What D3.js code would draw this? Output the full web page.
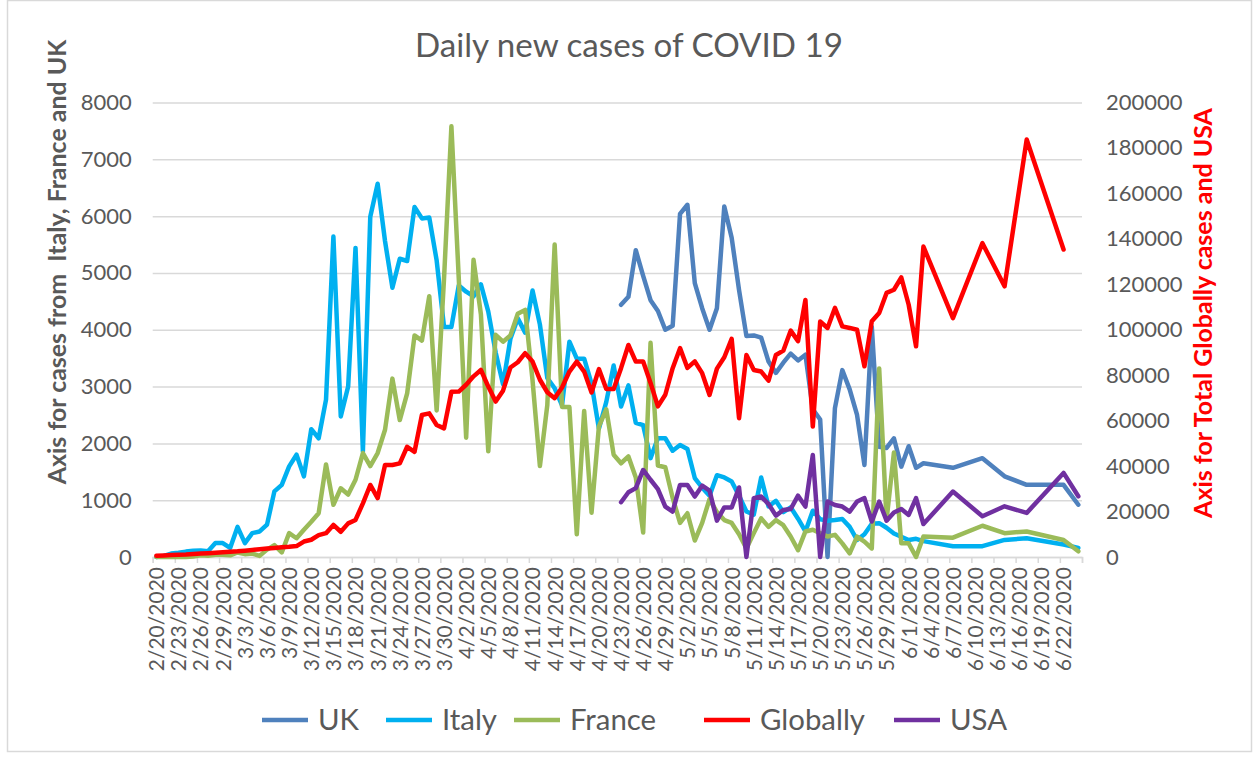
<!DOCTYPE html>
<html><head><meta charset="utf-8">
<script src="https://cdn.jsdelivr.net/npm/d3@7"></script>
<style>
body{margin:0;background:#fff}
svg{display:block}
text{font-family:Lato,"Open Sans",sans-serif;white-space:pre}
</style>
</head><body>
<svg id="chart" width="1258" height="760"></svg>
<script>
// ---------- DATA ----------
const dates = [
"2/20","2/21","2/22","2/23","2/24","2/25","2/26","2/27","2/28","2/29",
"3/1","3/2","3/3","3/4","3/5","3/6","3/7","3/8","3/9","3/10","3/11","3/12","3/13","3/14","3/15","3/16","3/17","3/18","3/19","3/20",
"3/21","3/22","3/23","3/24","3/25","3/26","3/27","3/28","3/29","3/30","3/31",
"4/1","4/2","4/3","4/4","4/5","4/6","4/7","4/8","4/9","4/10","4/11","4/12","4/13","4/14","4/15","4/16","4/17","4/18","4/19","4/20",
"4/21","4/22","4/23","4/24","4/25","4/26","4/27","4/28","4/29","4/30",
"5/1","5/2","5/3","5/4","5/5","5/6","5/7","5/8","5/9","5/10","5/11","5/12","5/13","5/14","5/15","5/16","5/17","5/18","5/19","5/20",
"5/21","5/22","5/23","5/24","5/25","5/26","5/27","5/28","5/29","5/30","5/31",
"6/1","6/2","6/3","6/7","6/11","6/14","6/17","6/22","6/24"];

// Italy, France, Globally: aligned from 2/20
const italy = [
0,20,60,75,95,110,115,100,245,245,
160,530,245,420,450,570,1155,1270,1595,1800,1420,2250,2090,2770,5640,2475,3000,5440,1860,5990,
6570,5560,4740,5250,5210,6160,5960,5975,5220,4050,4050,
4780,4670,4590,4800,4320,3600,3040,3840,4200,3950,4690,4090,3150,2970,2670,3790,3490,3490,3050,2260,
2730,3370,2650,3020,2360,2320,1740,2090,2090,1870,
1970,1900,1390,1220,1080,1440,1400,1330,1080,800,745,1400,890,990,790,875,675,450,815,665,
640,650,670,530,300,400,585,595,515,415,355,
300,320,280,190,190,300,330,220,160];

const france = [
0,0,0,0,0,10,30,20,40,40,
30,80,50,60,20,130,210,80,420,330,480,620,770,1630,920,1210,1100,1360,1830,1600,
1830,2240,3140,2410,2880,3900,3810,4590,2580,4900,7580,
4900,2100,5230,4270,1860,3910,3790,3900,4280,4350,3110,1600,2670,5500,2640,2640,400,2570,780,2300,
2600,1800,1650,1770,1400,430,3770,1610,1580,1040,
600,770,290,600,1020,790,650,600,400,150,420,680,530,650,560,360,120,450,480,420,
360,390,240,65,360,270,150,3320,650,1840,240,
240,0,360,340,550,420,450,300,100];

const globally = [
500,700,900,1000,1100,1300,1500,1700,1900,2100,
2300,2500,2800,3100,3400,3700,4000,4300,4500,4800,6800,7600,9600,10500,14100,11100,14800,16300,23600,31700,
25900,40500,40500,41200,48500,46300,62500,63200,58100,56600,72700,
72800,75800,79500,82300,75000,68400,73200,83400,85700,89700,86000,78000,72500,69900,74600,81600,86000,81600,72400,82700,
73900,73900,83100,93300,86000,86000,76600,66300,71400,83100,
91900,83200,86100,80900,71300,82900,87900,96000,61100,88900,82300,81600,77600,88900,90800,99600,95000,113100,57400,103600,
100800,109600,101500,100800,100000,83900,103700,107400,116200,117600,123000,
111000,92700,136600,105100,138100,119100,183700,135300,null];

// UK and USA: aligned to the end (from 4/23)
const uk = [
4440,4580,5400,4950,4520,4330,4000,4070,
6040,6200,4820,4380,4000,4380,6170,5620,4700,3890,3900,3860,3440,3240,3420,3580,3460,3560,2600,2420,
0,2620,3290,2950,2500,1620,4050,1940,1920,2090,1590,
1950,1570,1650,1570,1740,1420,1270,1270,920];

const usa = [
24100,28500,30300,38300,34000,29900,22200,20000,
31700,31700,26600,31400,29200,16000,21800,21800,30600,0,25900,26600,23300,18200,20700,21100,27000,22200,44900,0,
24400,22900,22200,20000,24400,25900,15600,24400,16000,19600,21100,
18500,25900,14500,28800,17900,22300,19400,37000,26700];

const seriesNames = ["UK","Italy","France","Globally","USA"];
const seriesColors = ["#4F81BD","#00B0F0","#9BBB59","#FF0000","#7030A0"];

const leftTicks = [0,1000,2000,3000,4000,5000,6000,7000,8000];
const rightTicks = [0,20000,40000,60000,80000,100000,120000,140000,160000,180000,200000];
const xTickLabels = ["2/20/2020","2/23/2020","2/26/2020","2/29/2020","3/3/2020","3/6/2020","3/9/2020","3/12/2020","3/15/2020","3/18/2020","3/21/2020","3/24/2020","3/27/2020","3/30/2020","4/2/2020","4/5/2020","4/8/2020","4/11/2020","4/14/2020","4/17/2020","4/20/2020","4/23/2020","4/26/2020","4/29/2020","5/2/2020","5/5/2020","5/8/2020","5/11/2020","5/14/2020","5/17/2020","5/20/2020","5/23/2020","5/26/2020","5/29/2020","6/1/2020","6/4/2020","6/7/2020","6/10/2020","6/13/2020","6/16/2020","6/19/2020","6/22/2020"];

const titleText = "Daily new cases of COVID 19";
const leftTitle = "Axis for cases from  Italy, France and UK";
const rightTitle = "Axis for Total Globally cases and USA";

// ---------- LAYOUT ----------
const svg = d3.select("#chart");
const M = {left:152.7, right:1082, top:102.5, bottom:557};
const grey = "#595959", gridC = "#d9d9d9";

const parse = s => { const [m,d] = s.split("/").map(Number); return new Date(Date.UTC(2020, m-1, d)); };
const x = d3.scaleUtc().domain([parse("2/20"), parse("6/25")]).range([M.left, M.right]);
const mid = dt => x(d3.utcHour.offset(dt, 12));
const yL = d3.scaleLinear().domain([0,8000]).range([M.bottom, M.top]);
const yR = d3.scaleLinear().domain([0,200000]).range([M.bottom, M.top]);

// outer border
svg.append("rect").attr("x",7.5).attr("y",0.5).attr("width",1244).attr("height",751)
  .attr("fill","#fff").attr("stroke",gridC).attr("stroke-width",1.5);

function fit(sel, target){
  const fs = parseFloat(sel.attr("font-size"));
  const w = sel.node().getComputedTextLength();
  if (w>0) sel.attr("font-size", fs*target/w);
  return parseFloat(sel.attr("font-size"));
}

// title
const t = svg.append("text").attr("x",629).attr("y",57).attr("text-anchor","middle")
  .attr("fill",grey).attr("font-size",26).text(titleText);
fit(t, 428);

// gridlines (left axis)
const gAxL = svg.append("g").attr("transform",`translate(${M.left},0)`)
  .call(d3.axisLeft(yL).tickValues(leftTicks).tickSize(-(M.right-M.left)).tickPadding(21).tickFormat(d3.format("d")));
gAxL.select(".domain").remove();
gAxL.selectAll(".tick line").attr("stroke",gridC).attr("stroke-width",1.5);
gAxL.selectAll(".tick text").attr("fill",grey).attr("font-size",22).attr("font-family","Lato");

// right axis labels
const gAxR = svg.append("g").attr("transform",`translate(${M.right},0)`)
  .call(d3.axisRight(yR).tickValues(rightTicks).tickSize(0).tickPadding(24).tickFormat(d3.format("d")));
gAxR.select(".domain").remove();
gAxR.selectAll(".tick text").attr("fill",grey).attr("font-size",22).attr("font-family","Lato");

// x axis tick marks
const tickDates = d3.range(0, 127, 3).map(i => d3.utcDay.offset(parse("2/20"), i));
const gX = svg.append("g").attr("transform",`translate(0,${M.bottom})`)
  .call(d3.axisBottom(x).tickValues(tickDates).tickSize(6).tickFormat(""));
gX.select(".domain").attr("stroke",gridC).attr("stroke-width",1.5);
gX.selectAll(".tick line").attr("stroke",gridC).attr("stroke-width",1.5);

// x labels
const labelDates = xTickLabels.map(s => { const p = s.split("/"); return d3.utcHour.offset(parse(p[0]+"/"+p[1]), 12); });
const gXL = svg.append("g").attr("transform",`translate(0,${M.bottom})`)
  .call(d3.axisBottom(x).tickValues(labelDates).tickSize(0).tickFormat((d,i)=>xTickLabels[i]));
gXL.select(".domain").remove();
gXL.selectAll(".tick text").attr("fill",grey).attr("font-size",21).attr("font-family","Lato")
  .attr("text-anchor","end").attr("transform","rotate(-90)").attr("x",-10).attr("y",0).attr("dy","0.35em");

// axis titles
const lt = svg.append("text").attr("transform","translate(57,262) rotate(-90)").attr("text-anchor","middle")
  .attr("dy","0.35em").attr("font-weight","bold").attr("fill",grey).attr("font-size",21).text(leftTitle);
fit(lt, 445);
const rt = svg.append("text").attr("transform","translate(1203,313) rotate(-90)").attr("text-anchor","middle")
  .attr("dy","0.35em").attr("font-weight","bold").attr("fill","#FF0000").attr("font-size",21).text(rightTitle);
fit(rt, 410);

// ---------- SERIES ----------
function rows(vals, alignEnd){
  const off = alignEnd ? dates.length - vals.length : 0;
  return vals.map((v,i)=>({date:parse(dates[i+off]), v}));
}
const allSeries = [
  {name:"UK", data:rows(uk,true), y:yL},
  {name:"Italy", data:rows(italy,false), y:yL},
  {name:"France", data:rows(france,false), y:yL},
  {name:"Globally", data:rows(globally,false), y:yR},
  {name:"USA", data:rows(usa,true), y:yR}
];
allSeries.forEach((s,i)=>{
  const line = d3.line().defined(d=>d.v!=null).x(d=>mid(d.date)).y(d=>s.y(d.v));
  svg.append("path").datum(s.data).attr("d",line).attr("fill","none")
    .attr("stroke",seriesColors[i]).attr("stroke-width",4.5)
    .attr("stroke-linejoin","round").attr("stroke-linecap","round");
});

// ---------- LEGEND ----------
const legX = [262,386,514,704,894];
// size legend text so that "Globally" spans about 105px, as in the reference
const probe = svg.append("text").attr("font-size",24).text("Globally");
const legFs = fit(probe, 105);
probe.remove();
seriesNames.forEach((n,i)=>{
  const g = svg.append("g").attr("transform",`translate(${legX[i]},720)`);
  g.append("line").attr("x1",0).attr("x2",46).attr("y1",0).attr("y2",0)
    .attr("stroke",seriesColors[i]).attr("stroke-width",4.5);
  g.append("text").attr("x",56).attr("y",0).attr("dy","0.35em").attr("fill",grey)
    .attr("font-size",legFs).text(n);
});
</script>
</body></html>
